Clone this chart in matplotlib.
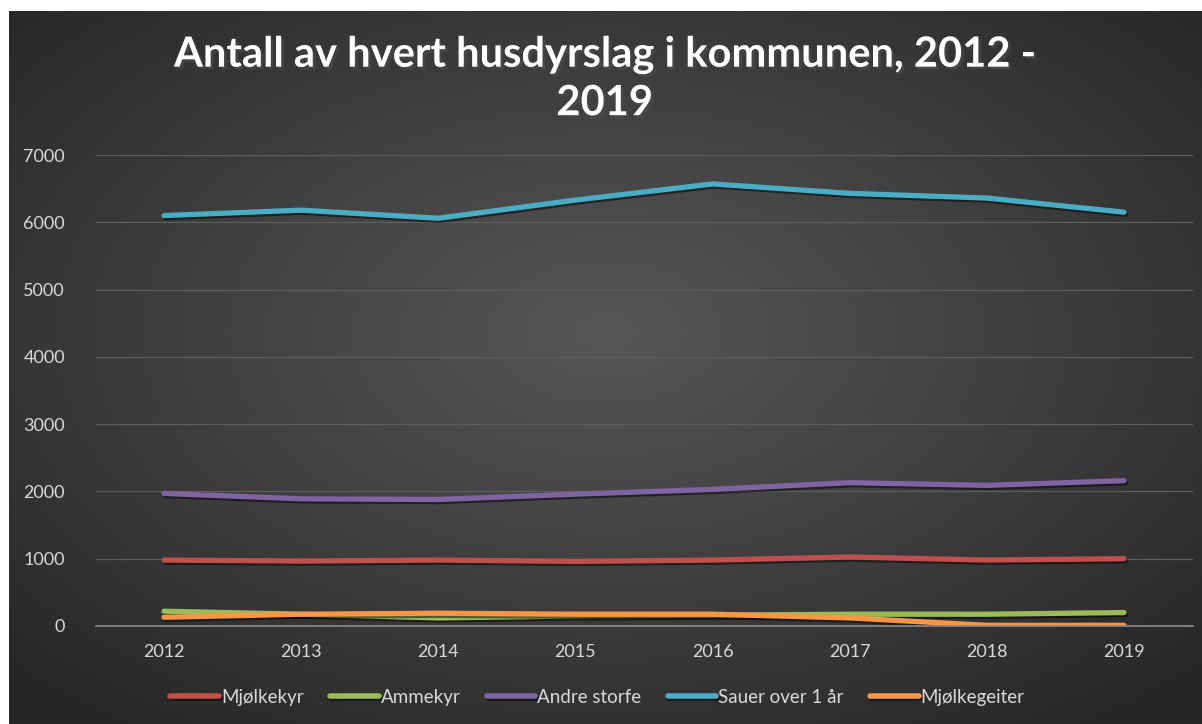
import matplotlib.pyplot as plt
import matplotlib.patheffects as pe
import numpy as np

years = ["2012", "2013", "2014", "2015", "2016", "2017", "2018", "2019"]
mjolkekyr = [980, 965, 980, 960, 980, 1025, 980, 1000]
ammekyr = [220, 175, 120, 150, 160, 175, 175, 200]
andre_storfe = [1970, 1890, 1880, 1960, 2030, 2130, 2090, 2160]
sauer = [6100, 6180, 6060, 6330, 6570, 6430, 6360, 6150]
mjolkegeiter = [130, 175, 190, 175, 175, 120, 10, 10]

series = [
    ("Mjølkekyr", mjolkekyr, "#c0504d"),
    ("Ammekyr", ammekyr, "#9bbb59"),
    ("Andre storfe", andre_storfe, "#8064a2"),
    ("Sauer over 1 år", sauer, "#4bacc6"),
    ("Mjølkegeiter", mjolkegeiter, "#f79646"),
]

plt.rcParams['font.family'] = ['Lato', 'DejaVu Sans']

W, H = 1202, 724
fig = plt.figure(figsize=(W / 100, H / 100), dpi=100)
fig.patch.set_facecolor("white")

# dark radial background, white margin top and left
bg = fig.add_axes([9 / W, 0, 1 - 9 / W, 1 - 11 / H])
bg.set_axis_off()
yy, xx = np.mgrid[0:1:300j, 0:1:500j]
r = np.sqrt(((xx - 0.5) / 0.75) ** 2 + ((yy - 0.45) / 0.75) ** 2)
shade = np.clip(0.34 - 0.19 * r / 0.94, 0.15, 0.35)
bg.imshow(np.dstack([shade] * 3), aspect="auto", extent=[0, 1, 0, 1])

ax = fig.add_axes([95.5 / W, (H - 626) / H, 1097 / W, 471 / H])
ax.set_facecolor("none")
x = np.arange(len(years))
for name, vals, col in series:
    ax.plot(x, vals, color=col, lw=3.8, label=name, solid_capstyle="round",
            path_effects=[pe.SimpleLineShadow(offset=(1, -1.5), alpha=0.5), pe.Normal()])

ax.set_xlim(-0.5, len(years) - 0.5)
ax.set_ylim(0, 7000)
ax.set_yticks(range(0, 7001, 1000))
ax.set_xticks(x)
ax.set_xticklabels(years)
ax.grid(axis="y", color="#5e5e5e", lw=0.9)
ax.set_axisbelow(True)
for s in ["top", "right", "left"]:
    ax.spines[s].set_visible(False)
ax.spines["bottom"].set_color("#8c8c8c")
ax.spines["bottom"].set_linewidth(1.2)
ax.tick_params(length=0, colors="#d9d9d9", labelsize=13)
ax.tick_params(axis="x", pad=13)
ax.tick_params(axis="y", pad=22)

fig.text(0.503, 0.891, "Antall av hvert husdyrslag i kommunen, 2012 -\n2019",
         ha="center", va="center", color="white", fontsize=30, fontweight="bold",
         linespacing=1.32,
         path_effects=[pe.withSimplePatchShadow(offset=(2, -2), alpha=0.6)])

leg = fig.legend(loc="center", bbox_to_anchor=(0.497, 0.037), ncol=5, frameon=False,
                 fontsize=13.5, handlelength=2.6, handletextpad=0.1, columnspacing=1.4)
for t in leg.get_texts():
    t.set_color("#d9d9d9")
for h in leg.legend_handles:
    h.set_linewidth(4)

fig.savefig("out.png", dpi=100, facecolor=fig.get_facecolor())
